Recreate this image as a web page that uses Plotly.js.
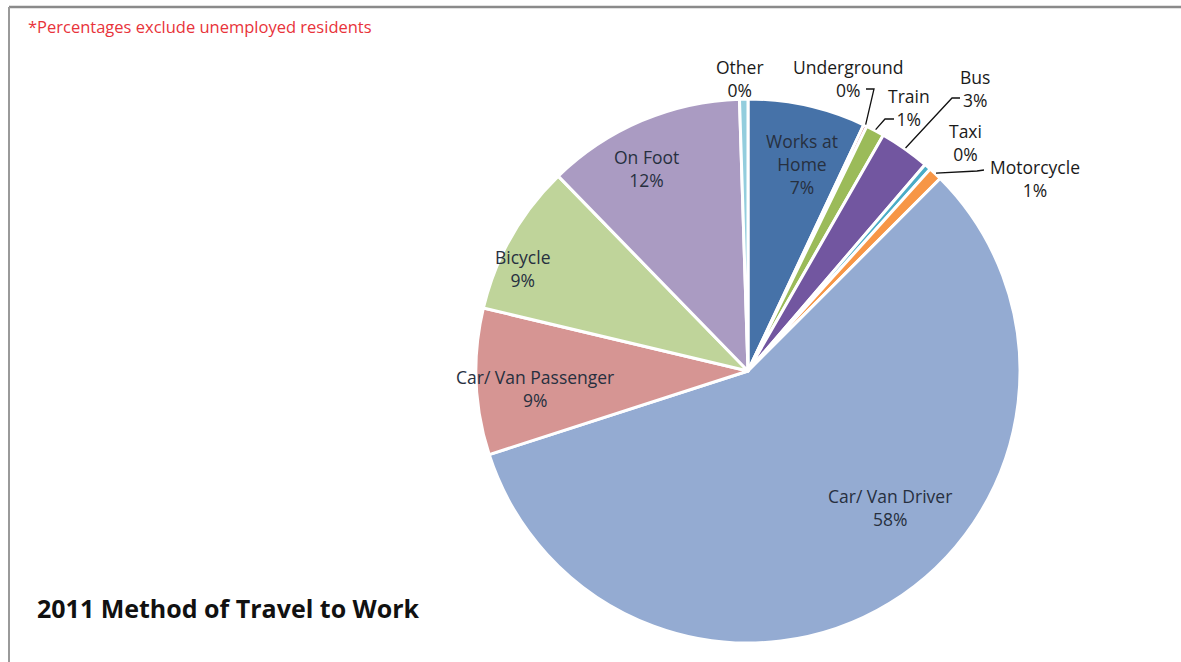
<!DOCTYPE html>
<html><head><meta charset="utf-8">
<script src="https://cdn.plot.ly/plotly-3.0.1.min.js"></script>
<style>html,body{margin:0;padding:0;background:#fff}#chart{width:1181px;height:662px}</style>
</head><body><div id="chart"></div>
<script>
// ---- data ----
const labels = ['Works at Home','Underground','Train','Bus','Taxi','Motorcycle','Car/ Van Driver','Car/ Van Passenger','Bicycle','On Foot','Other'];
const values = [7.0, 0.2, 1.1, 3.0, 0.4, 0.8, 57.6, 8.7, 9.0, 11.8, 0.5];
const chartTitle = '2011 Method of Travel to Work';
const noteText = '*Percentages exclude unemployed residents';

// ---- styles / layout ----
const colors = ['#4672a8','#c0504d','#9bbb59','#7256a0','#4bacc6','#f79646','#94abd2','#d69593','#bfd49a','#aa9bc2','#93cddd'];
const W = 1181, H = 662;
const cx = 748, cy = 371, R = 272;
// label block centres (pixels)
const labelPos = [[802,164],[848,78],[909,108],[975,88],[965,142],[1035,178],[890,507],[535,388],[523,268],[647,168],[740,78]];
// leader lines: [index, anchorX, anchorY, elbowX, elbowY]
const leaders = [[1,866,89,874,89],[2,894,119,885,119],[3,960,98,952,98],[5,984,170,977,171]];
const insideIdx = [0,6,7,8,9];

const total = values.reduce((a,b)=>a+b,0);
const pct = values.map(v => Math.round(v/total*100) + '%');
const disp = labels.map(l => l === 'Works at Home' ? 'Works at<br>Home' : l);

const px = x => x / W, py = y => 1 - y / H;

// mid-angle edge points derived from the data
const cum = []; let acc = 0;
values.forEach(v => { cum.push(acc + v/2); acc += v; });
const edge = i => {
  const a = cum[i] / total * 2 * Math.PI;
  return [cx + (R+1) * Math.sin(a), cy - (R+1) * Math.cos(a)];
};

const font = '"Open Sans", Lato, sans-serif';
const annotations = labels.map((l,i) => ({
  xref:'paper', yref:'paper', x: px(labelPos[i][0]), y: py(labelPos[i][1]),
  xanchor:'center', yanchor:'middle', showarrow:false, align:'center',
  text: disp[i] + '<br>' + pct[i],
  font:{family:font, size:17.5, color: insideIdx.includes(i) ? '#27303f' : '#1a1a1a'}
}));
annotations.push({xref:'paper', yref:'paper', x: px(26), y: py(26), xanchor:'left', yanchor:'middle', showarrow:false,
  text: noteText, font:{family:font, size:16.5, color:'#e8333a'}});
annotations.push({xref:'paper', yref:'paper', x: px(35), y: py(608), xanchor:'left', yanchor:'middle', showarrow:false,
  text: '<b>' + chartTitle + '</b>', font:{family:font, size:25, color:'#111111'}});

const shapes = leaders.map(([i,ax,ay,ex,ey]) => {
  const [tx,ty] = edge(i);
  return {type:'path', xref:'paper', yref:'paper',
    path: `M ${px(ax)} ${py(ay)} L ${px(ex)} ${py(ey)} L ${px(tx)} ${py(ty)}`,
    line:{color:'#111', width:1.3}};
});
shapes.push({type:'line', xref:'paper', yref:'paper', x0: px(9), y0: py(7), x1: 1, y1: py(7), line:{color:'#8a8a8a', width:2.5}});
shapes.push({type:'line', xref:'paper', yref:'paper', x0: px(9), y0: py(7), x1: px(9), y1: 0, line:{color:'#9a9a9a', width:2}});

const trace = {
  type:'pie', labels: labels, values: values, sort:false, direction:'clockwise', rotation:0,
  marker:{colors: colors, line:{color:'#ffffff', width:3}},
  textinfo:'none', hoverinfo:'label+percent',
  domain:{x:[px(cx-R), px(cx+R)], y:[py(cy+R), py(cy-R)]}
};

const layout = {
  width: W, height: H, margin:{l:0,r:0,t:0,b:0},
  paper_bgcolor:'#ffffff', showlegend:false,
  annotations: annotations, shapes: shapes
};
Plotly.newPlot('chart', [trace], layout, {displayModeBar:false, staticPlot:true});
</script></body></html>
